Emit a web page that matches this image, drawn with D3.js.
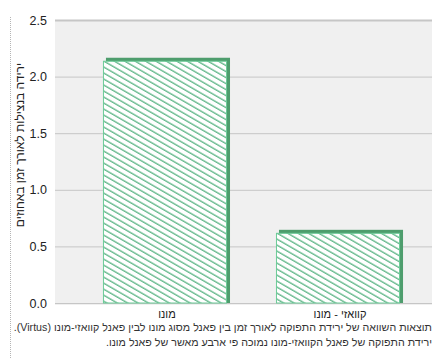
<!DOCTYPE html>
<html><head><meta charset="utf-8">
<script src="https://cdn.jsdelivr.net/npm/d3@7"></script>
<style>
html,body{margin:0;padding:0;background:#fff;}
svg{display:block;font-family:"Liberation Sans",Arial,"DejaVu Sans",sans-serif;}
</style></head>
<body><svg id="c" width="440" height="358"></svg>
<script>
const categories = ["מונו", "קוואזי - מונו"];
const values = [2.14, 0.62];
const yTicks = [0, 0.5, 1.0, 1.5, 2.0, 2.5];
const yTitle = "ירידה בנצילות לאורך זמן באחוזים";
const captionLines = [
  "תוצאות השוואה של ירידת התפוקה לאורך זמן בין פאנל מסוג מונו לבין פאנל קוואזי-מונו (Virtus).",
  "ירידת התפוקה של פאנל הקוואזי-מונו נמוכה פי ארבע מאשר של פאנל מונו."
];

const svg = d3.select("#c");
const plot = {left: 55, right: 432, top: 20, bottom: 303};

const y = d3.scaleLinear().domain([0, 2.5]).range([plot.bottom, plot.top]);
const x = d3.scaleBand().domain(categories).range([plot.left, plot.right])
  .paddingInner(0.283).paddingOuter(0.231).align(0.6);

// pattern
const defs = svg.append("defs");
const pat = defs.append("pattern").attr("id", "hatch")
  .attr("patternUnits", "userSpaceOnUse").attr("width", 10).attr("height", 5.2)
  .attr("patternTransform", "rotate(30)");
pat.append("rect").attr("width", 10).attr("height", 5.2).attr("fill", "#fff");
pat.append("line").attr("x1", 0).attr("x2", 10).attr("y1", 1).attr("y2", 1)
  .attr("stroke", "#45ab75").attr("stroke-width", 1.15);

// dotted left line
svg.append("line").attr("x1", 10.5).attr("x2", 10.5).attr("y1", 17).attr("y2", 358)
  .attr("stroke", "#b5b5b5").attr("stroke-dasharray", "1,1");

// background
svg.append("rect").attr("x", plot.left).attr("y", plot.top)
  .attr("width", plot.right - plot.left).attr("height", plot.bottom - plot.top + 2)
  .attr("fill", "#f0f0f0");

// gridlines + labels via axis
const yAxis = d3.axisLeft(y).tickValues(yTicks).tickFormat(d3.format(".1f"))
  .tickSize(-(plot.right - plot.left)).tickPadding(8);
const gy = svg.append("g").attr("transform", `translate(${plot.left},0)`).call(yAxis);
gy.select(".domain").remove();
gy.selectAll(".tick line").attr("stroke", "#c6c6c6").attr("stroke-width", d => d === 2.5 ? 2 : 1);
gy.selectAll(".tick text").attr("fill", "#222").attr("font-size", 12.5).attr("font-family", "Liberation Sans, Arial, sans-serif");

// bars
const bars = svg.append("g").selectAll("g").data(categories).join("g");
bars.append("rect")
  .attr("x", d => x(d) + 3)
  .attr("y", (d, i) => y(values[i]) - 3)
  .attr("width", x.bandwidth())
  .attr("height", (d, i) => y(0) - y(values[i]) + 3)
  .attr("fill", "#4e9d6d");
bars.append("rect")
  .attr("x", d => x(d) + 0.5)
  .attr("y", (d, i) => y(values[i]) + 0.5)
  .attr("width", x.bandwidth() - 1)
  .attr("height", (d, i) => y(0) - y(values[i]) - 0.5)
  .attr("fill", "url(#hatch)")
  .attr("stroke", "#6ccb98").attr("stroke-width", 1);

// category labels
svg.append("g").selectAll("text").data(categories).join("text")
  .attr("x", d => x(d) + x.bandwidth() / 2 + 2)
  .attr("y", 318)
  .attr("text-anchor", "middle").attr("direction", "rtl")
  .attr("font-size", 11).attr("fill", "#222")
  .text(d => d);

// y title
svg.append("text")
  .attr("transform", "translate(24,145) rotate(-90)")
  .attr("text-anchor", "middle").attr("direction", "rtl")
  .attr("font-size", 12).attr("fill", "#222")
  .text(yTitle);

// caption
svg.append("g").selectAll("text").data(captionLines).join("text")
  .attr("x", 432).attr("y", (d, i) => 331 + i * 15)
  .attr("direction", "rtl").attr("text-anchor", "start")
  .attr("font-size", 10.7).attr("fill", "#333")
  .text(d => d);
</script></body></html>
